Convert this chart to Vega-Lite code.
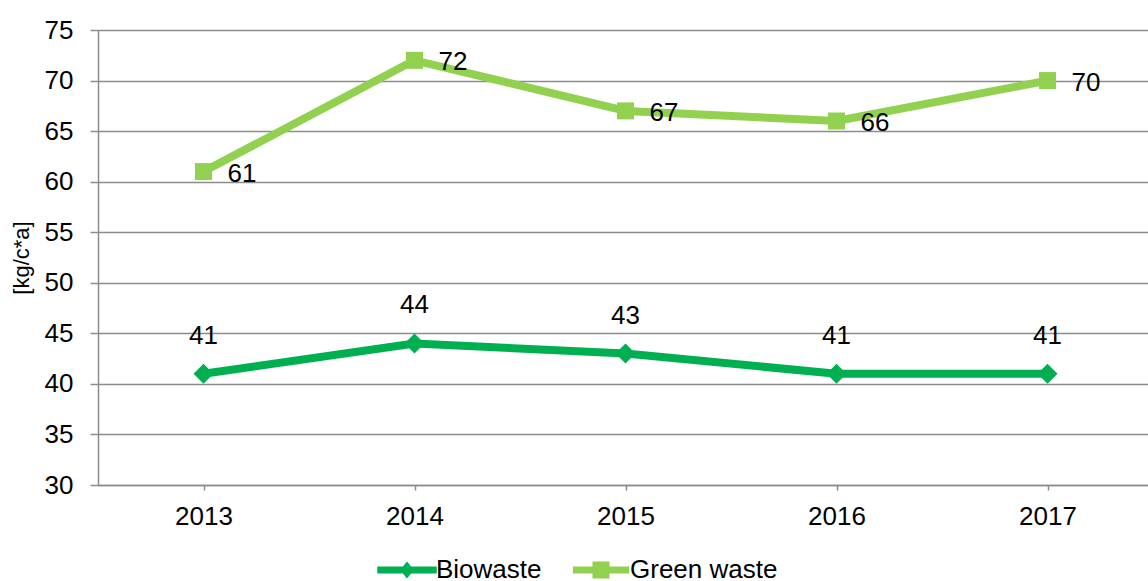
{
  "$schema": "https://vega.github.io/schema/vega-lite/v6.json",
  "autosize": "none",
  "padding": {"left": 98, "top": 30, "right": 0, "bottom": 96},
  "width": 1055,
  "height": 455,
  "background": "white",
  "config": {
    "view": {"stroke": null},
    "font": "Liberation Sans",
    "axis": {"labelFont": "Liberation Sans", "titleFont": "Liberation Sans"},
    "legend": {"labelFont": "Liberation Sans"}
  },
  "data": {
    "values": [
      {"year": "2013", "series": "Biowaste", "value": 41},
      {"year": "2014", "series": "Biowaste", "value": 44},
      {"year": "2015", "series": "Biowaste", "value": 43},
      {"year": "2016", "series": "Biowaste", "value": 41},
      {"year": "2017", "series": "Biowaste", "value": 41},
      {"year": "2013", "series": "Green waste", "value": 61},
      {"year": "2014", "series": "Green waste", "value": 72},
      {"year": "2015", "series": "Green waste", "value": 67},
      {"year": "2016", "series": "Green waste", "value": 66},
      {"year": "2017", "series": "Green waste", "value": 70}
    ]
  },
  "encoding": {
    "x": {
      "field": "year",
      "type": "ordinal",
      "scale": {"type": "point", "padding": 0.5},
      "axis": {
        "title": null,
        "labelAngle": 0,
        "labelFontSize": 26,
        "labelColor": "#000000",
        "labelPadding": 13,
        "tickSize": 5,
        "tickColor": "#8c8c8c",
        "tickWidth": 1.5,
        "domainColor": "#8c8c8c",
        "domainWidth": 1.5,
        "grid": false
      }
    },
    "y": {
      "field": "value",
      "type": "quantitative",
      "scale": {"domain": [30, 75], "nice": false, "zero": false},
      "axis": {
        "title": "[kg/c*a]",
        "titleFontSize": 22,
        "titleFontWeight": "normal",
        "titleColor": "#000000",
        "titlePadding": 11,
        "values": [30, 35, 40, 45, 50, 55, 60, 65, 70, 75],
        "labelFontSize": 26,
        "labelColor": "#000000",
        "labelPadding": 17,
        "tickSize": 8,
        "tickColor": "#8c8c8c",
        "tickWidth": 1.5,
        "domainColor": "#8c8c8c",
        "domainWidth": 1.5,
        "grid": true,
        "gridColor": "#8c8c8c",
        "gridWidth": 1.5
      }
    }
  },
  "layer": [
    {
      "transform": [{"filter": "datum.series === 'Biowaste'"}],
      "mark": {"type": "line", "strokeWidth": 8, "strokeJoin": "round", "strokeCap": "round", "color": "#00B050"},
      "encoding": {}
    },
    {
      "transform": [{"filter": "datum.series === 'Green waste'"}],
      "mark": {"type": "line", "strokeWidth": 8, "strokeJoin": "round", "strokeCap": "round", "color": "#92D050"},
      "encoding": {}
    },
    {
      "transform": [{"filter": "datum.series === 'Biowaste'"}],
      "mark": {"type": "point", "shape": "diamond", "filled": true, "size": 400, "opacity": 1, "color": "#00B050"}
    },
    {
      "transform": [{"filter": "datum.series === 'Green waste'"}],
      "mark": {"type": "point", "shape": "square", "filled": true, "size": 289, "opacity": 1, "color": "#92D050"}
    },
    {
      "transform": [{"filter": "datum.series === 'Biowaste'"}],
      "mark": {"type": "text", "fontSize": 26, "dy": -38, "align": "center", "baseline": "middle", "color": "#000000"},
      "encoding": {"text": {"field": "value", "type": "quantitative"}}
    },
    {
      "transform": [{"filter": "datum.series === 'Green waste'"}],
      "mark": {"type": "text", "fontSize": 26, "dx": 24, "dy": 2, "align": "left", "baseline": "middle", "color": "#000000"},
      "encoding": {"text": {"field": "value", "type": "quantitative"}}
    },
    {
      "transform": [{"filter": "datum.value < 0"}],
      "mark": {"type": "point", "filled": true, "opacity": 1, "strokeWidth": 0},
      "encoding": {
        "color": {
          "field": "series",
          "type": "nominal",
          "scale": {"domain": ["Biowaste", "Green waste"], "range": ["#00B050", "#92D050"]},
          "legend": {
            "title": null,
            "orient": "none",
            "legendX": 296,
            "legendY": 527,
            "direction": "horizontal",
            "labelFontSize": 26,
            "labelColor": "#000000",
            "labelOffset": 16,
            "columnPadding": 30,
            "symbolSize": 289,
            "symbolOpacity": 1,
            "symbolStrokeWidth": 0
          }
        },
        "shape": {
          "field": "series",
          "type": "nominal",
          "scale": {
            "domain": ["Biowaste", "Green waste"],
            "range": [
              "M-3.5,-0.41H3.5V0.41H-3.5Z M0,-1L0.82,0L0,1L-0.82,0Z",
              "M-3.3,-0.41H3.3V0.41H-3.3Z M-1,-1H1V1H-1Z"
            ]
          },
          "legend": {
            "title": null,
            "orient": "none",
            "legendX": 296,
            "legendY": 527,
            "direction": "horizontal",
            "labelFontSize": 26,
            "labelColor": "#000000",
            "labelOffset": 16,
            "columnPadding": 30,
            "symbolSize": 289,
            "symbolOpacity": 1,
            "symbolStrokeWidth": 0
          }
        }
      }
    }
  ]
}
